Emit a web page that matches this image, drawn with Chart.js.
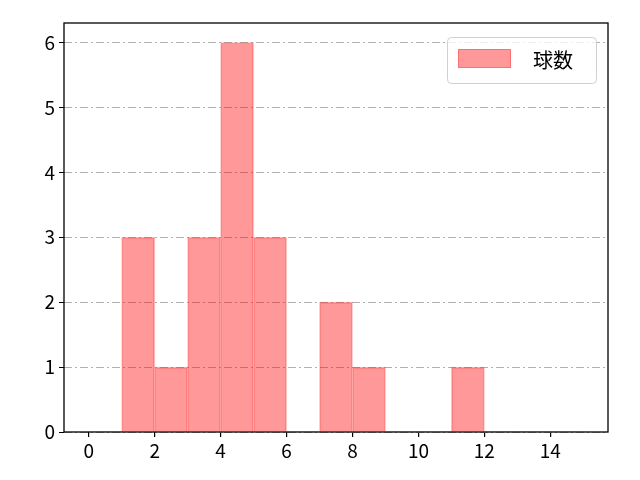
<!DOCTYPE html>
<html>
<head>
<meta charset="utf-8">
<script src="https://cdn.jsdelivr.net/npm/chart.js@4.4.0/dist/chart.umd.min.js"></script>
<style>
  html, body { margin: 0; padding: 0; background: #fff; }
  #wrap { width: 640px; height: 480px; }
</style>
</head>
<body>
<div id="wrap"><canvas id="histChart" width="640" height="480"></canvas></div>
<script>
  // histogram bins (left edge, count)
  const binEdges = [0, 1, 2, 3, 4, 5, 6, 7, 8, 9, 10, 11, 12, 13, 14];
  const binCounts = [0, 3, 1, 3, 6, 3, 0, 2, 1, 0, 0, 1, 0, 0, 0];
  const seriesLabel = "球数";
  const xTicks = [0, 2, 4, 6, 8, 10, 12, 14];
  const yTicks = [0, 1, 2, 3, 4, 5, 6];

  const fontFamily = "'Noto Sans CJK JP', 'DejaVu Sans', sans-serif";
  const fillColor = "rgba(255, 0, 0, 0.4)";
  const edgeColor = "rgba(255, 40, 40, 0.35)";

  const points = binEdges.map((e, i) => ({ x: e + 0.5, y: binCounts[i] }));

  // box around the plot area, like matplotlib spines
  const frame = {
    id: "frame",
    afterDatasetsDraw(chart) {
      const { ctx, chartArea: a } = chart;
      ctx.save();
      ctx.strokeStyle = "#000";
      ctx.lineWidth = 1.3;
      ctx.strokeRect(a.left, a.top, a.right - a.left, a.bottom - a.top);
      ctx.restore();
    }
  };

  // legend box in upper right, drawn by hand
  const boxLegend = {
    id: "boxLegend",
    afterDraw(chart) {
      const { ctx, chartArea: a } = chart;
      const w = 149, h = 46;
      const x = a.right - 12 - w, y = a.top + 14;
      ctx.save();
      ctx.fillStyle = "rgba(255,255,255,0.8)";
      ctx.strokeStyle = "#d0d0d0";
      ctx.lineWidth = 1;
      ctx.beginPath();
      ctx.roundRect(x + 0.5, y + 0.5, w, h, 4);
      ctx.fill();
      ctx.stroke();
      ctx.fillStyle = fillColor;
      ctx.strokeStyle = edgeColor;
      ctx.fillRect(x + 11, y + 12, 53, 19);
      ctx.strokeRect(x + 11.5, y + 12.5, 52, 18);
      ctx.fillStyle = "#000";
      ctx.font = "20px " + fontFamily;
      ctx.textBaseline = "middle";
      ctx.fillText(seriesLabel, x + 86, y + 23);
      ctx.restore();
    }
  };

  new Chart(document.getElementById("histChart"), {
    type: "bar",
    data: {
      datasets: [{
        label: seriesLabel,
        data: points,
        backgroundColor: fillColor,
        borderColor: edgeColor,
        borderWidth: c => (c.raw && c.raw.y === 0 ? 0 : 1),
        barPercentage: 1,
        categoryPercentage: 1,
        grouped: false
      }]
    },
    options: {
      responsive: false,
      animation: false,
      devicePixelRatio: 1,
      layout: { padding: { left: 0, top: 23, right: 32, bottom: 0 } },
      plugins: {
        legend: { display: false },
        tooltip: { enabled: false }
      },
      scales: {
        x: {
          type: "linear",
          offset: false,
          min: -0.75,
          max: 15.75,
          afterBuildTicks(scale) { scale.ticks = xTicks.map(v => ({ value: v })); },
          afterFit(scale) { scale.height = 48; },
          grid: { offset: false, drawOnChartArea: false, tickLength: 5, tickColor: "#000", lineWidth: 1.2 },
          border: { display: false },
          ticks: { color: "#000", font: { family: fontFamily, size: 19 }, padding: 2, maxRotation: 0 }
        },
        y: {
          min: 0,
          max: 6.3,
          afterBuildTicks(scale) { scale.ticks = yTicks.map(v => ({ value: v })); },
          afterFit(scale) { scale.width = 64; },
          grid: { color: "#b0b0b0", lineWidth: 1, tickLength: 5, tickColor: "#000" },
          border: { display: false, dash: [8, 3, 2, 3] },
          ticks: { color: "#000", font: { family: fontFamily, size: 19 }, padding: 4 }
        }
      }
    },
    plugins: [frame, boxLegend]
  });
</script>
</body>
</html>
